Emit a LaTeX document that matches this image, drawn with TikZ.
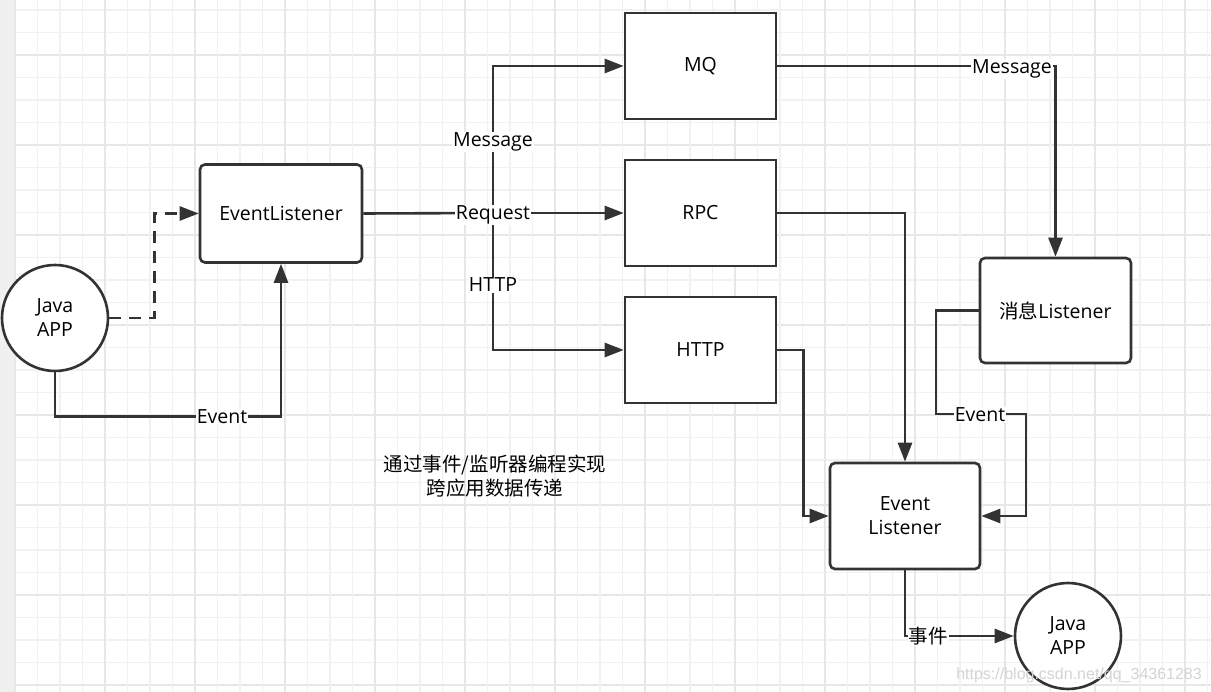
\documentclass[tikz,border=0pt]{standalone}
\usepackage{fontspec}
\setmainfont{Open Sans}
\newfontfamily\cjk{Noto Sans CJK SC}
\newfontfamily\wmfont{Liberation Sans}
\usetikzlibrary{arrows.meta}
\definecolor{ink}{RGB}{51,51,51}
\definecolor{gridminor}{RGB}{241,241,241}
\definecolor{gridmajor}{RGB}{231,231,231}
\definecolor{strip}{RGB}{240,240,240}
\definecolor{wm}{RGB}{212,212,212}
\tikzset{
  conn/.style={draw=ink, line width=2.6pt},
  arr/.style={conn, -{Triangle[length=19pt,width=14pt]}},
  boxsharp/.style={draw=ink, line width=2.6pt, fill=white, minimum width=151pt, minimum height=106pt, inner sep=0pt, font=\fontsize{19.5}{24}\selectfont, align=center},
  boxround/.style={boxsharp, rounded corners=5pt},
  appcircle/.style={draw=ink, line width=2.6pt, fill=white, circle, minimum size=106pt, inner sep=0pt, font=\fontsize{19.5}{24}\selectfont, align=center},
  lbl/.style={fill=white, inner sep=1pt, font=\fontsize{19.5}{24}\selectfont},
  note/.style={font=\cjk\fontsize{19.5}{24}\selectfont, align=center}
}
\begin{document}
\begin{tikzpicture}[x=1pt,y=-1pt]
\useasboundingbox (0,0) rectangle (1211,692);
\fill[white] (0,0) rectangle (1211,692);
\fill[strip] (0,0) rectangle (15,692);
% grid
\foreach \k in {0,...,30}{
  \pgfmathtruncatemacro{\m}{mod(\k,4)}
  \ifnum\m=2 \draw[gridmajor,line width=1.4pt] (15,10+22.5*\k) -- (1211,10+22.5*\k);
  \else \draw[gridminor,line width=1.3pt] (15,10+22.5*\k) -- (1211,10+22.5*\k); \fi
}
\foreach \k in {0,...,53}{
  \pgfmathtruncatemacro{\m}{mod(\k,4)}
  \ifnum\m=0 \draw[gridmajor,line width=1.4pt] (15+22.5*\k,0) -- (15+22.5*\k,692);
  \else \draw[gridminor,line width=1.3pt] (15+22.5*\k,0) -- (15+22.5*\k,692); \fi
}

% nodes
\node[appcircle] (app1) at (55,318) {Java\\APP};
\node[boxround, minimum width=162pt, minimum height=98pt] (el) at (281,213.5) {EventListener};
\node[boxsharp] (mq) at (700.5,66) {MQ};
\node[boxsharp] (rpc) at (700.5,213) {RPC};
\node[boxsharp] (http) at (700.5,350) {HTTP};
\node[boxround, minimum width=151pt, minimum height=105pt] (ml) at (1055.5,310.5) {{\cjk 消息}Listener};
\node[boxround, minimum width=150pt, minimum height=106pt] (evl) at (905,516) {Event\\Listener};
\node[appcircle] (app2) at (1068,636) {Java\\APP};

\node[note] (txt) at (495,476) {通过事件/监听器编程实现\\跨应用数据传递};
\node[font=\wmfont\fontsize{16}{18}\selectfont, text=wm, anchor=east, inner sep=0pt] (wmk) at (1202,675) {https://blog.csdn.net/qq\_34361283};

% coordinates
\coordinate (br) at (493,213);
\coordinate (k1) at (936,414);
\coordinate (k2) at (1026,414);

% connectors
\draw[arr, dash pattern=on 12pt off 8pt] (app1.east) -- ++(45,0) |- (el.west);
\draw[arr] (app1.south) -- ++(0,44) -| (el.south);
\draw[conn] (el.east) -- (br);
\draw[arr] (br) |- (mq.west);
\draw[arr] (br) -- (rpc.west);
\draw[arr] (br) |- (http.west);
\draw[arr] (mq.east) -| (ml.north);
\draw[arr] (rpc.east) -| (evl.north);
\draw[arr] (http.east) -- ++(26,0) |- (evl.west);
\draw[arr] (ml.west) -| (k1) -- (k2) |- (evl.east);
\draw[arr] (evl.south) |- (app2.west);

% labels
\node[lbl] (l1) at (222,417) {Event};
\node[lbl] (l2) at (493,142) {Message};
\node[lbl] (l3) at (493,215) {Request};
\node[lbl] (l4) at (493,285) {HTTP};
\node[lbl] (l5) at (1012,69) {Message};
\node[lbl] (l6) at (980,415) {Event};
\node[lbl, font=\cjk\fontsize{19.5}{24}\selectfont] (l7) at (928,636) {事件};
\end{tikzpicture}
\end{document}
